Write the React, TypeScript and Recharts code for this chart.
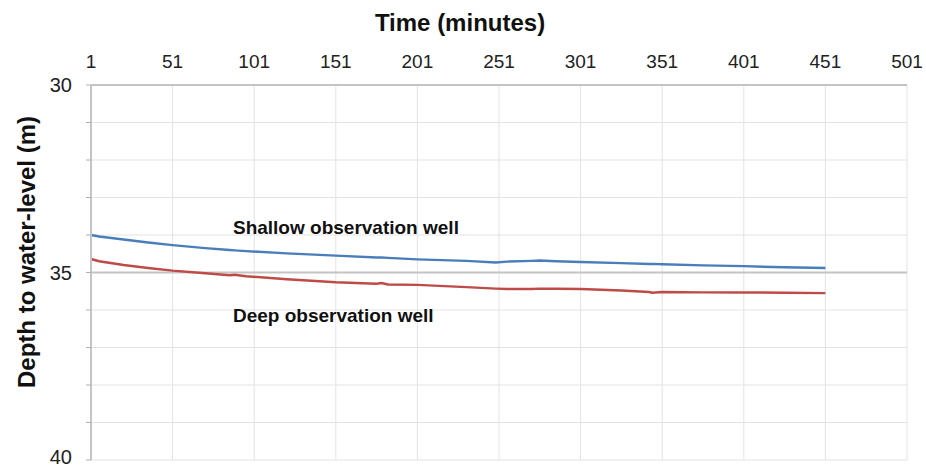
import { CartesianGrid, Label, Line, LineChart, ReferenceDot, ReferenceLine, XAxis, YAxis } from "recharts"

// time in minutes since pumping started
const minutes = [1, 6, 21, 36, 51, 71, 86, 89, 96, 121, 151, 176, 179, 183, 201, 231, 249, 256, 271, 276, 286, 301, 326, 343, 345, 351, 376, 401, 426, 451]
// depth to water level (m)
const shallowWell = [34.0, 34.04, 34.12, 34.2, 34.27, 34.35, 34.4, 34.41, 34.43, 34.49, 34.55, 34.6, 34.6, 34.61, 34.65, 34.69, 34.73, 34.71, 34.69, 34.68, 34.7, 34.72, 34.75, 34.77, 34.77, 34.78, 34.81, 34.83, 34.86, 34.88]
const deepWell = [34.64, 34.7, 34.8, 34.88, 34.95, 35.02, 35.07, 35.06, 35.1, 35.18, 35.26, 35.3, 35.28, 35.32, 35.33, 35.39, 35.43, 35.44, 35.44, 35.43, 35.43, 35.44, 35.48, 35.52, 35.54, 35.52, 35.53, 35.53, 35.54, 35.55]

const timeTicks = [1, 51, 101, 151, 201, 251, 301, 351, 401, 451, 501]
const depthTicks = [30, 31, 32, 33, 34, 35, 36, 37, 38, 39, 40]
const labelledDepths = [30, 35, 40]

const annotations = [
  { name: "Shallow observation well", time: 88, depth: 33.79 },
  { name: "Deep observation well", time: 88, depth: 36.13 },
]

const data = minutes.map((t, i) => ({ t, shallow: shallowWell[i], deep: deepWell[i] }))

const font = "'Liberation Sans', Arial, sans-serif"
const W = 926
const H = 469

// y tick: only 30 / 35 / 40 get a label, the bottom one nudged up so it stays on the page
function DepthTick(props: any) {
  const { x, y, payload } = props
  const v = payload.value
  if (!labelledDepths.includes(v)) return null
  const yy = v === 40 ? Math.min(y, H - 12) : y
  return (
    <text x={x} y={yy} textAnchor="end" dominantBaseline="central" fill="#222" fontSize={20} fontFamily={font}>
      {v}
    </text>
  )
}

export default function App() {
  return (
    <div style={{ position: "absolute", left: 0, top: 0, background: "#fff" }}>
      <LineChart width={W} height={H} data={data} margin={{ top: 0, right: 19, bottom: 9, left: 0 }}>
        <CartesianGrid stroke="#e3e3e3" strokeWidth={1} />
        <XAxis
          dataKey="t"
          type="number"
          orientation="top"
          domain={[1, 501]}
          ticks={timeTicks}
          height={85}
          tickSize={0}
          tickMargin={17}
          axisLine={{ stroke: "#c4c4c4", strokeWidth: 2 }}
          tick={{ fill: "#222", fontSize: 19, fontFamily: font }}
        >
          <Label
            content={() => (
              <text
                x={460}
                y={22}
                textAnchor="middle"
                dominantBaseline="central"
                style={{ fontFamily: font, fontSize: 24, fontWeight: 700, fill: "#111" }}
              >
                Time (minutes)
              </text>
            )}
          />
        </XAxis>
        <YAxis
          type="number"
          reversed
          domain={[30, 40]}
          ticks={depthTicks}
          width={91}
          tickSize={5}
          tickMargin={14}
          interval={0}
          axisLine={{ stroke: "#c4c4c4", strokeWidth: 2 }}
          tickLine={{ stroke: "#b0b0b0" }}
          tick={<DepthTick />}
        >
          <Label
            content={() => {
              const cx = 26
              const cy = 252
              return (
                <text
                  x={cx}
                  y={cy}
                  transform={`rotate(-90, ${cx}, ${cy})`}
                  textAnchor="middle"
                  dominantBaseline="central"
                  style={{ fontFamily: font, fontSize: 24, fontWeight: 700, fill: "#111" }}
                >
                  Depth to water-level (m)
                </text>
              )
            }}
          />
        </YAxis>
        <ReferenceLine y={35} stroke="#c4c4c4" strokeWidth={2} />
        <Line dataKey="shallow" stroke="#4a7ebb" strokeWidth={2.5} dot={false} isAnimationActive={false} />
        <Line dataKey="deep" stroke="#be4b48" strokeWidth={2.5} dot={false} isAnimationActive={false} />
        {annotations.map((a) => (
          <ReferenceDot
            key={a.name}
            x={a.time}
            y={a.depth}
            r={0}
            stroke="none"
            label={{
              value: a.name,
              position: "right",
              offset: 0,
              style: { fontFamily: font, fontSize: 19, fontWeight: 700, fill: "#111" },
            }}
          />
        ))}
      </LineChart>
    </div>
  )
}
